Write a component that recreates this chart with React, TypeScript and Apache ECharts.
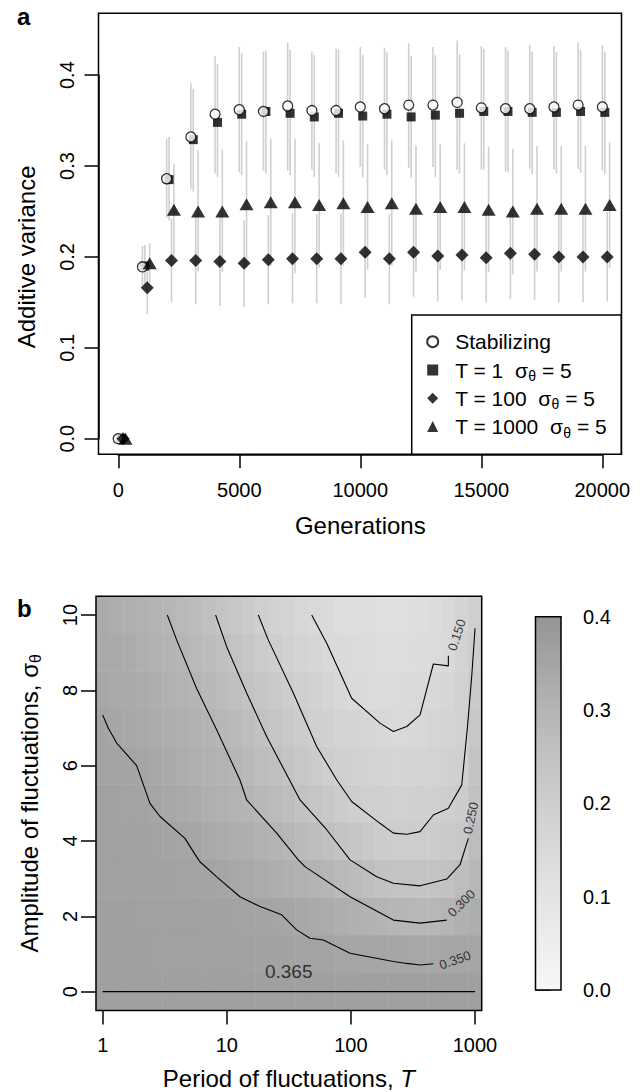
import React, { useEffect, useRef } from "react";
import * as echarts from "echarts";

// ---------------- Panel a data ----------------
const GENERATIONS = [0, 1000, 2000, 3000, 4000, 5000, 6000, 7000, 8000, 9000, 10000, 11000, 12000, 13000, 14000, 15000, 16000, 17000, 18000, 19000, 20000];

const STAB = [0.000, 0.189, 0.286, 0.332, 0.357, 0.362, 0.360, 0.366, 0.361, 0.361, 0.365, 0.363, 0.367, 0.367, 0.370, 0.364, 0.363, 0.363, 0.365, 0.367, 0.365];
const STAB_LO = [0, 0.168, 0.243, 0.275, 0.292, 0.293, 0.295, 0.295, 0.296, 0.292, 0.299, 0.296, 0.298, 0.299, 0.296, 0.296, 0.294, 0.297, 0.296, 0.297, 0.295];
const STAB_HI = [0, 0.212, 0.330, 0.391, 0.421, 0.431, 0.426, 0.436, 0.426, 0.429, 0.431, 0.430, 0.435, 0.431, 0.438, 0.432, 0.431, 0.433, 0.432, 0.436, 0.433];

const T1 = [0.000, 0.190, 0.285, 0.329, 0.348, 0.357, 0.360, 0.358, 0.354, 0.358, 0.355, 0.357, 0.354, 0.356, 0.358, 0.360, 0.360, 0.359, 0.359, 0.360, 0.359];
const T1_LO = [0, 0.168, 0.240, 0.272, 0.288, 0.290, 0.292, 0.290, 0.288, 0.288, 0.288, 0.290, 0.287, 0.288, 0.292, 0.296, 0.293, 0.291, 0.292, 0.293, 0.291];
const T1_HI = [0, 0.213, 0.332, 0.385, 0.412, 0.424, 0.427, 0.428, 0.422, 0.428, 0.422, 0.425, 0.421, 0.422, 0.423, 0.429, 0.427, 0.426, 0.425, 0.428, 0.426];

const T100 = [0.000, 0.166, 0.196, 0.196, 0.195, 0.193, 0.197, 0.198, 0.198, 0.198, 0.205, 0.198, 0.205, 0.201, 0.202, 0.199, 0.204, 0.203, 0.200, 0.200, 0.200];
const T100_LO = [0, 0.137, 0.150, 0.148, 0.146, 0.145, 0.148, 0.149, 0.149, 0.148, 0.155, 0.148, 0.156, 0.151, 0.152, 0.150, 0.154, 0.153, 0.150, 0.150, 0.151];
const T100_HI = [0, 0.196, 0.242, 0.245, 0.245, 0.240, 0.246, 0.248, 0.247, 0.248, 0.256, 0.247, 0.255, 0.251, 0.252, 0.249, 0.254, 0.253, 0.250, 0.250, 0.249];

const T1000 = [0.000, 0.193, 0.252, 0.250, 0.250, 0.258, 0.260, 0.260, 0.257, 0.259, 0.255, 0.259, 0.253, 0.255, 0.255, 0.252, 0.250, 0.253, 0.253, 0.253, 0.257];
const T1000_LO = [0, 0.172, 0.200, 0.184, 0.183, 0.188, 0.190, 0.182, 0.188, 0.190, 0.186, 0.190, 0.184, 0.186, 0.185, 0.183, 0.181, 0.184, 0.184, 0.184, 0.188];
const T1000_HI = [0, 0.215, 0.302, 0.317, 0.318, 0.327, 0.330, 0.330, 0.325, 0.328, 0.324, 0.328, 0.322, 0.324, 0.325, 0.321, 0.319, 0.322, 0.322, 0.322, 0.326];

// generation offsets used to dodge the four series
const DODGE_STAB = 0;
const DODGE_T1 = 100;
const DODGE_T100 = 200;
const DODGE_T1000 = 300;

const NAME_STAB = "Stabilizing";
const NAME_T1 = "T = 1\u00a0\u00a0σθ = 5";
const NAME_T100 = "T = 100\u00a0\u00a0σθ = 5";
const NAME_T1000 = "T = 1000\u00a0\u00a0σθ = 5";

// ---------------- Panel b data ----------------
const LOG10_T = [0.000, 0.107, 0.214, 0.321, 0.429, 0.536, 0.643, 0.750, 0.857, 0.964, 1.071, 1.179, 1.286, 1.393, 1.500, 1.607, 1.714, 1.821, 1.929, 2.036, 2.143, 2.250, 2.357, 2.464, 2.571, 2.679, 2.786, 2.893, 3.000];
const SIGMA = [0, 1, 2, 3, 4, 5, 6, 7, 8, 9, 10];

const VA_SIGMA_0 = [0.365, 0.365, 0.365, 0.365, 0.365, 0.365, 0.365, 0.365, 0.365, 0.365, 0.365, 0.365, 0.365, 0.365, 0.365, 0.365, 0.365, 0.365, 0.365, 0.365, 0.365, 0.365, 0.365, 0.365, 0.365, 0.365, 0.365, 0.365, 0.365];
const VA_SIGMA_1 = [0.365, 0.365, 0.365, 0.365, 0.364, 0.364, 0.364, 0.363, 0.363, 0.362, 0.361, 0.360, 0.359, 0.358, 0.357, 0.355, 0.354, 0.353, 0.351, 0.350, 0.348, 0.347, 0.346, 0.345, 0.344, 0.345, 0.346, 0.348, 0.350];
const VA_SIGMA_2 = [0.365, 0.365, 0.365, 0.364, 0.364, 0.363, 0.362, 0.361, 0.360, 0.358, 0.356, 0.354, 0.353, 0.351, 0.347, 0.341, 0.334, 0.328, 0.322, 0.315, 0.309, 0.302, 0.297, 0.292, 0.290, 0.292, 0.300, 0.317, 0.323];
const VA_SIGMA_3 = [0.364, 0.364, 0.363, 0.362, 0.360, 0.358, 0.356, 0.354, 0.352, 0.349, 0.342, 0.336, 0.329, 0.323, 0.316, 0.310, 0.304, 0.297, 0.285, 0.272, 0.260, 0.249, 0.243, 0.240, 0.240, 0.244, 0.250, 0.268, 0.290];
const VA_SIGMA_4 = [0.363, 0.362, 0.360, 0.358, 0.356, 0.353, 0.351, 0.346, 0.339, 0.332, 0.325, 0.318, 0.311, 0.304, 0.294, 0.281, 0.269, 0.258, 0.245, 0.232, 0.220, 0.210, 0.205, 0.203, 0.205, 0.210, 0.218, 0.225, 0.270];
const VA_SIGMA_5 = [0.361, 0.358, 0.356, 0.352, 0.347, 0.340, 0.333, 0.327, 0.320, 0.313, 0.306, 0.299, 0.287, 0.275, 0.263, 0.250, 0.237, 0.224, 0.210, 0.198, 0.193, 0.189, 0.187, 0.187, 0.189, 0.193, 0.198, 0.208, 0.250];
const VA_SIGMA_6 = [0.357, 0.355, 0.352, 0.347, 0.340, 0.333, 0.326, 0.319, 0.312, 0.306, 0.297, 0.283, 0.270, 0.256, 0.242, 0.228, 0.214, 0.200, 0.192, 0.185, 0.178, 0.172, 0.168, 0.168, 0.172, 0.178, 0.186, 0.193, 0.240];
const VA_SIGMA_7 = [0.352, 0.347, 0.340, 0.334, 0.328, 0.322, 0.316, 0.309, 0.303, 0.293, 0.279, 0.264, 0.250, 0.236, 0.222, 0.207, 0.196, 0.187, 0.179, 0.171, 0.162, 0.154, 0.148, 0.152, 0.156, 0.168, 0.175, 0.185, 0.230];
const VA_SIGMA_8 = [0.343, 0.339, 0.334, 0.328, 0.321, 0.314, 0.307, 0.301, 0.288, 0.274, 0.260, 0.246, 0.232, 0.218, 0.204, 0.192, 0.180, 0.168, 0.156, 0.147, 0.143, 0.141, 0.141, 0.143, 0.148, 0.155, 0.165, 0.180, 0.215];
const VA_SIGMA_9 = [0.338, 0.333, 0.327, 0.320, 0.313, 0.307, 0.300, 0.285, 0.271, 0.257, 0.243, 0.228, 0.213, 0.199, 0.187, 0.175, 0.164, 0.152, 0.145, 0.139, 0.135, 0.133, 0.132, 0.133, 0.137, 0.143, 0.150, 0.177, 0.205];
const VA_SIGMA_10 = [0.330, 0.324, 0.318, 0.312, 0.305, 0.298, 0.284, 0.271, 0.257, 0.242, 0.227, 0.211, 0.196, 0.184, 0.171, 0.159, 0.148, 0.140, 0.134, 0.129, 0.126, 0.124, 0.123, 0.124, 0.128, 0.136, 0.149, 0.172, 0.195];
const HEAT_ROWS = [VA_SIGMA_0, VA_SIGMA_1, VA_SIGMA_2, VA_SIGMA_3, VA_SIGMA_4, VA_SIGMA_5, VA_SIGMA_6, VA_SIGMA_7, VA_SIGMA_8, VA_SIGMA_9, VA_SIGMA_10];

// contour lines: [log10(T), sigma]
const C150 = [[1.684, 10], [1.805, 9.25], [2.006, 7.79], [2.234, 7.13], [2.342, 6.91], [2.450, 7.04], [2.557, 7.35], [2.664, 8.70], [2.785, 8.65], [2.785, 8.92]];
const C200 = [[1.254, 10], [1.334, 9.34], [1.536, 7.93], [1.724, 6.51], [1.886, 5.62], [2.006, 5.05], [2.234, 4.47], [2.342, 4.21], [2.450, 4.18], [2.557, 4.25], [2.664, 4.69], [2.785, 4.87], [2.893, 5.49], [2.938, 7.0], [2.973, 8.36], [3.0, 9.65]];
const C250 = [[0.910, 10], [0.999, 9.16], [1.160, 7.93], [1.322, 6.77], [1.590, 5.09], [1.805, 4.30], [1.993, 3.50], [2.208, 3.05], [2.342, 2.88], [2.557, 2.81], [2.772, 2.99], [2.879, 3.37], [2.946, 4.07]];
const C300 = [[0.521, 10], [0.596, 9.34], [0.757, 8.05], [0.919, 6.95], [1.106, 5.62], [1.160, 5.09], [1.402, 4.21], [1.576, 3.50], [1.630, 3.32], [1.993, 2.52], [2.342, 1.90], [2.557, 1.82], [2.772, 1.90]];
const C350 = [[0, 7.35], [0.045, 7.0], [0.113, 6.6], [0.274, 6.0], [0.381, 5.0], [0.462, 4.65], [0.663, 4.07], [0.757, 3.58], [0.784, 3.45], [0.919, 3.05], [1.106, 2.52], [1.268, 2.26], [1.442, 2.04], [1.563, 1.64], [1.670, 1.42], [1.778, 1.37], [1.993, 1.02], [2.342, 0.80], [2.450, 0.75], [2.557, 0.71], [2.664, 0.74]];
const C365 = [[0, 0], [3, 0]];
const CONTOURS = [C150, C200, C250, C300, C350, C365];

const CONTOUR_LABEL_TEXT = ["0.150", "0.250", "0.300", "0.350", "0.365"];
// label anchors (data coords) and text angle
const LABEL_ANCHORS = [
  { at: [2.852, 9.47], rotate: 72, size: 13 },
  { at: [2.966, 4.61], rotate: 78, size: 13 },
  { at: [2.89, 2.35], rotate: 45, size: 13 },
  { at: [2.839, 0.84], rotate: 20, size: 13 },
  { at: [1.499, 0.53], rotate: 0, size: 19 },
];

const CB_LEVELS = [0, 0.1, 0.2, 0.3, 0.4];
const CB_COLORS = ["#f7f7f7", "#e4e4e4", "#cecece", "#b5b5b5", "#959595"];

const FONT = '"Liberation Sans", Arial, Helvetica, sans-serif';

function buildOption() {
  const A = { left: 98.5, top: 13.3, width: 523, height: 441 };
  const B = { left: 96, top: 596.2, width: 385.7, height: 414.3 };

  const noBounds = { outerBoundsMode: "none", containLabel: false };

  const grids = [
    { ...A, ...noBounds, show: true, borderColor: "#000", borderWidth: 1.5, backgroundColor: "transparent" }, // 0 panel a data
    { left: 118.3, top: A.top, width: 484, height: A.height, ...noBounds }, // 1 a x ticks
    { left: A.left, top: 75.1, width: A.width, height: 363.6, ...noBounds }, // 2 a y ticks
    { ...B, ...noBounds }, // 3 heatmap
    { ...B, ...noBounds }, // 4 lines
    { left: 102.7, top: B.top, width: 372.3, height: B.height, ...noBounds }, // 5 b x ticks
    { left: B.left, top: 615, width: B.width, height: 376.7, ...noBounds }, // 6 b y ticks
    { left: 535.5, top: 616.7, width: 25.5, height: 373.3, ...noBounds }, // 7 colour bar
  ];

  const hid = (gridIndex: number, min: number, max: number) => ({ gridIndex, type: "value", min, max, show: false });
  const line = { show: true, lineStyle: { color: "#000", width: 1.5 } };
  const tick = (len: number) => ({ show: true, length: len, lineStyle: { color: "#000", width: 1.5 } });

  const xAxis: any[] = [
    hid(0, -815, 20790),
    {
      gridIndex: 1, type: "value", min: 0, max: 20000, interval: 5000, position: "bottom",
      axisLine: line, axisTick: tick(14), splitLine: { show: false },
      axisLabel: { color: "#000", fontSize: 20, fontFamily: FONT, margin: 26, formatter: (v: number) => String(v) },
      name: "Generations", nameLocation: "middle", nameGap: 59.5,
      nameTextStyle: { color: "#000", fontSize: 24, fontFamily: FONT },
    },
    hid(2, 0, 1),
    { gridIndex: 3, type: "category", data: LOG10_T.map(String), show: false },
    hid(4, -0.0536, 3.0536),
    {
      gridIndex: 5, type: "value", min: 0, max: 3, interval: 1, position: "bottom",
      axisLine: { show: false }, axisTick: tick(14), splitLine: { show: false },
      axisLabel: { color: "#000", fontSize: 20, fontFamily: FONT, margin: 24, formatter: (v: number) => String(Math.round(Math.pow(10, v))) },
      name: "{n|Period of fluctuations, }{i|T}", nameLocation: "middle", nameGap: 56,
      nameTextStyle: {
        color: "#000", fontSize: 24, fontFamily: FONT,
        rich: { n: { fontSize: 24, fontFamily: FONT, lineHeight: 24 }, i: { fontSize: 24, fontFamily: FONT, fontStyle: "italic", lineHeight: 24 } },
      },
    },
    hid(6, 0, 1),
    hid(7, 0, 1),
  ];

  const yAxis: any[] = [
    hid(0, -0.01716, 0.468),
    hid(1, 0, 1),
    {
      gridIndex: 2, type: "value", min: 0, max: 0.4, interval: 0.1, position: "left",
      axisLine: line, axisTick: tick(14), splitLine: { show: false },
      axisLabel: { color: "#000", fontSize: 20, fontFamily: FONT, margin: 22, rotate: 90, formatter: (v: number) => v.toFixed(1) },
      name: "Additive variance", nameLocation: "middle", nameGap: 60,
      nameTextStyle: { color: "#000", fontSize: 24, fontFamily: FONT },
    },
    { gridIndex: 3, type: "category", data: SIGMA.map(String), show: false },
    hid(4, -0.5, 10.5),
    hid(5, 0, 1),
    {
      gridIndex: 6, type: "value", min: 0, max: 10, interval: 2, position: "left",
      axisLine: { show: false }, axisTick: tick(15), splitLine: { show: false },
      axisLabel: { color: "#000", fontSize: 20, fontFamily: FONT, margin: 16, rotate: 90 },
      name: "{n|Amplitude of fluctuations, σ}{s|θ}", nameLocation: "middle", nameGap: 53,
      nameTextStyle: {
        color: "#000", fontSize: 24, fontFamily: FONT,
        rich: { n: { fontSize: 24, fontFamily: FONT, lineHeight: 28 }, s: { fontSize: 16, fontFamily: FONT, lineHeight: 16, verticalAlign: "bottom" } },
      },
    },
    {
      gridIndex: 7, type: "value", min: 0, max: 0.4, interval: 0.1, position: "right",
      axisLine: { show: false }, axisTick: tick(15), splitLine: { show: false },
      axisLabel: { color: "#000", fontSize: 20, fontFamily: FONT, margin: 22, formatter: (v: number) => v.toFixed(1) },
    },
  ];

  const heatData: number[][] = [];
  HEAT_ROWS.forEach((row, r) => row.forEach((v, c) => heatData.push([c, r, v])));

  const errRender = (params: any, api: any) => {
    const x = api.value(0);
    const a = api.coord([x, api.value(1)]);
    const b = api.coord([x, api.value(2)]);
    return { type: "line", shape: { x1: a[0], y1: a[1], x2: b[0], y2: b[1] }, style: { stroke: "#cfcfcf", lineWidth: 1.6 } };
  };
  const errSeries = (name: string, dodge: number, lo: number[], hi: number[]) => ({
    type: "custom", name, xAxisIndex: 0, yAxisIndex: 0, silent: true, z: 1,
    renderItem: errRender, encode: { x: 0, y: [1, 2] },
    data: GENERATIONS.map((g, i) => [g + dodge, lo[i], hi[i]]).filter((d) => d[2] > d[1]),
  });
  const pts = (name: string, dodge: number, vals: number[], symbol: string, size: any, itemStyle: any, z: number) => ({
    type: "scatter", name, xAxisIndex: 0, yAxisIndex: 0, symbol, symbolSize: size, itemStyle, z, silent: true,
    data: GENERATIONS.map((g, i) => [g + dodge, vals[i]]),
  });

  const series: any[] = [
    {
      type: "heatmap", xAxisIndex: 3, yAxisIndex: 3, data: heatData, z: 1, silent: true,
      itemStyle: { borderWidth: 0 }, emphasis: { disabled: true }, progressive: 0,
    },
    errSeries("err stab", DODGE_STAB, STAB_LO, STAB_HI),
    errSeries("err t1", DODGE_T1, T1_LO, T1_HI),
    errSeries("err t100", DODGE_T100, T100_LO, T100_HI),
    errSeries("err t1000", DODGE_T1000, T1000_LO, T1000_HI),
    pts(NAME_T1, DODGE_T1, T1, "rect", 9, { color: "#000" }, 3),
    pts(NAME_STAB, DODGE_STAB, STAB, "circle", 10, { color: "#fff", borderColor: "#000", borderWidth: 1.3 }, 4),
    pts(NAME_T100, DODGE_T100, T100, "diamond", 13, { color: "#000" }, 5),
    pts(NAME_T1000, DODGE_T1000, T1000, "triangle", [14, 12], { color: "#000" }, 6),
    ...CONTOURS.map((c, i) => ({
      type: "line", name: "contour " + i, xAxisIndex: 4, yAxisIndex: 4, data: c, showSymbol: false, symbol: "none",
      lineStyle: { color: "#000", width: 1.1 }, z: 3, silent: true,
    })),
    {
      type: "scatter", name: "contour labels", xAxisIndex: 4, yAxisIndex: 4, symbolSize: 0, z: 4, silent: true,
      data: CONTOUR_LABEL_TEXT.map((t, i) => ({
        name: t, value: LABEL_ANCHORS[i].at,
        label: { show: true, position: "inside", formatter: t, rotate: LABEL_ANCHORS[i].rotate, fontSize: LABEL_ANCHORS[i].size, color: "#111", fontFamily: FONT },
      })),
    },
    {
      type: "custom", name: "frame", xAxisIndex: 4, yAxisIndex: 4, data: [[0, 0]], z: 6, silent: true, clip: false,
      renderItem: (params: any) => {
        const cs = params.coordSys;
        return { type: "rect", shape: { x: cs.x, y: cs.y, width: cs.width, height: cs.height }, style: { fill: "none", stroke: "#000", lineWidth: 1.5 } };
      },
    },
    {
      type: "custom", name: "colour bar", xAxisIndex: 7, yAxisIndex: 7, data: [[0, 0]], z: 2, silent: true, clip: false,
      renderItem: (params: any, api: any) => {
        const maxL = CB_LEVELS[CB_LEVELS.length - 1];
        const p0 = api.coord([0, maxL]);
        const p1 = api.coord([1, CB_LEVELS[0]]);
        return {
          type: "rect", shape: { x: p0[0], y: p0[1], width: p1[0] - p0[0], height: p1[1] - p0[1] },
          style: {
            fill: new echarts.graphic.LinearGradient(0, 1, 0, 0, CB_LEVELS.map((l, i) => ({ offset: l / maxL, color: CB_COLORS[i] }))),
            stroke: "#000", lineWidth: 1.5,
          },
        };
      },
    },
  ];

  const legendFormatter = (name: string) => {
    const k = name.indexOf("θ");
    if (k < 0) return "{f|" + name + "}";
    return "{f|" + name.slice(0, k) + "}{s|θ}{n|" + name.slice(k + 1) + "}";
  };

  return {
    animation: false,
    textStyle: { fontFamily: FONT, color: "#000" },
    title: [
      { text: "a", left: 17, top: 4.6, padding: 0, textStyle: { fontSize: 24, fontWeight: "bold", fontFamily: FONT, color: "#000" } },
      { text: "b", left: 17, top: 596.6, padding: 0, textStyle: { fontSize: 24, fontWeight: "bold", fontFamily: FONT, color: "#000" } },
    ],
    grid: grids,
    xAxis,
    yAxis,
    visualMap: [{
      type: "continuous", show: false, min: CB_LEVELS[0], max: CB_LEVELS[CB_LEVELS.length - 1], dimension: 2, seriesIndex: 0,
      inRange: { color: CB_COLORS },
    }],
    legend: {
      data: [NAME_STAB, NAME_T1, NAME_T100, NAME_T1000],
      orient: "vertical", left: 411.7, top: 315,
      padding: [13.7, 14.5, 14.6, 14.5], itemWidth: 11, itemHeight: 11, itemGap: 2.3,
      backgroundColor: "#fff", borderColor: "#000", borderWidth: 1.5, borderRadius: 0,
      selectedMode: false, formatter: legendFormatter,
      textStyle: {
        color: "#000", fontSize: 21, fontFamily: FONT, lineHeight: 26,
        rich: {
          f: { fontSize: 21, fontFamily: FONT, lineHeight: 26, color: "#000", padding: [0, 0, 0, 12] },
          n: { fontSize: 21, fontFamily: FONT, lineHeight: 26, color: "#000" },
          s: { fontSize: 14, fontFamily: FONT, lineHeight: 14, verticalAlign: "bottom", color: "#000" },
        },
      },
    },
    series,
  };
}

export default function App() {
  const ref = useRef<HTMLDivElement>(null);
  useEffect(() => {
    if (!ref.current) return;
    const chart = echarts.init(ref.current, null, { renderer: "svg" });
    chart.setOption(buildOption() as any);
    return () => chart.dispose();
  }, []);
  return <div ref={ref} style={{ position: "absolute", left: 0, top: 0, width: 642, height: 1092 }} />;
}
